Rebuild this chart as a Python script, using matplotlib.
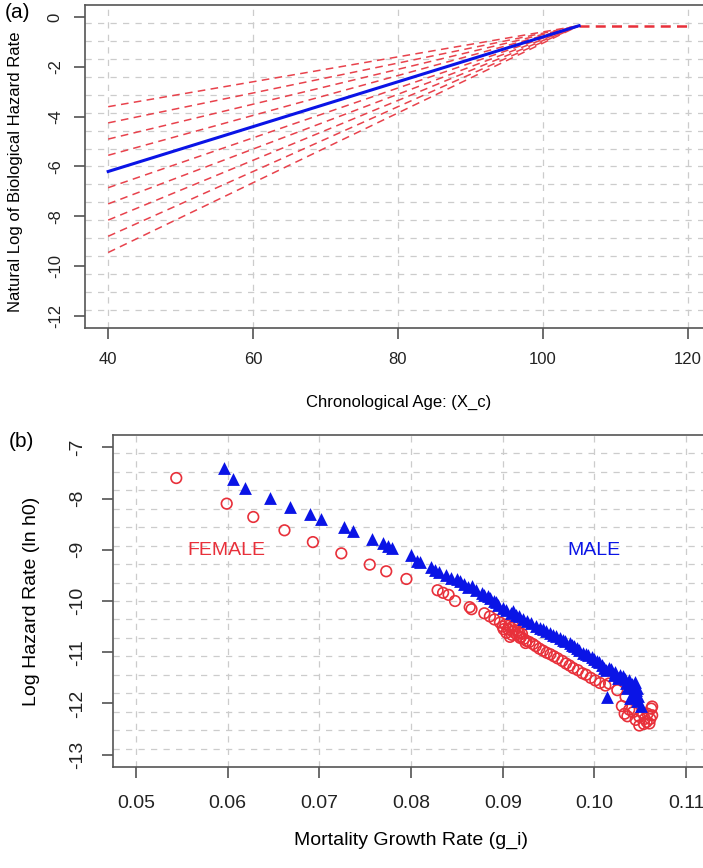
import numpy as np
import matplotlib.pyplot as plt

plt.rcParams['font.family'] = ['Liberation Sans', 'DejaVu Sans']
plt.rcParams['axes.unicode_minus'] = False

# panel (a): biological hazard lines
age_start = 40
age_end = 105
age_max = 120
lnh_end = -0.35
blue_start = -6.2
red_starts = [-3.6, -4.25, -4.9, -5.55, -6.85, -7.5, -8.15, -8.8, -9.45]
a_xticks = [40, 60, 80, 100, 120]
a_yticks = [0, -2, -4, -6, -8, -10, -12]

# panel (b): growth rate vs log hazard
fem_g = [0.0544, 0.0599, 0.0628, 0.0662, 0.0693, 0.0724, 0.0755, 0.0773, 0.0795,
         0.0829, 0.0835, 0.0841, 0.0848, 0.0864, 0.0866, 0.0880, 0.0886, 0.0891,
         0.0897, 0.0900, 0.0903, 0.0906, 0.0909, 0.0911, 0.0913, 0.0915, 0.0918,
         0.0920, 0.0923, 0.0926, 0.0929, 0.0933, 0.0936, 0.0940, 0.0944, 0.0948,
         0.0952, 0.0956, 0.0960, 0.0965, 0.0969, 0.0973, 0.0977, 0.0982, 0.0987,
         0.0991, 0.0996, 0.1001, 0.1006, 0.1012, 0.1016, 0.1025, 0.1034, 0.1033,
         0.1042, 0.1049, 0.1049, 0.1052, 0.1055, 0.1057, 0.1060, 0.1062, 0.1063,
         0.1063, 0.1045, 0.1038,
         0.0901, 0.0904, 0.0907, 0.0910, 0.0912, 0.0916, 0.0919, 0.0908, 0.0921,
         0.0925, 0.1030, 0.1036, 0.1058, 0.1061, 0.1054]
fem_h = [-7.60, -8.10, -8.36, -8.62, -8.85, -9.07, -9.29, -9.42, -9.57,
         -9.79, -9.84, -9.88, -10.00, -10.12, -10.16, -10.24, -10.30, -10.36,
         -10.42, -10.50, -10.46, -10.55, -10.52, -10.60, -10.57, -10.65, -10.62,
         -10.70, -10.74, -10.78, -10.80, -10.84, -10.88, -10.93, -10.97, -11.01,
         -11.04, -11.08, -11.12, -11.17, -11.22, -11.26, -11.31, -11.35, -11.41,
         -11.44, -11.50, -11.55, -11.60, -11.65, -11.61, -11.74, -11.87, -12.20,
         -12.17, -12.26, -12.43, -12.18, -12.30, -12.36, -12.39, -12.10, -12.23,
         -12.06, -12.32, -12.12,
         -10.55, -10.62, -10.48, -10.66, -10.50, -10.58, -10.72, -10.70, -10.64,
         -10.82, -12.05, -12.25, -12.20, -12.30, -12.40]
male_g = [0.0596, 0.0606, 0.0619, 0.0646, 0.0668, 0.0690, 0.0702, 0.0727, 0.0737,
          0.0758, 0.0769, 0.0775, 0.0779, 0.0800, 0.0807, 0.0810, 0.0822, 0.0826,
          0.0831, 0.0838, 0.0844, 0.0853, 0.0858, 0.0862, 0.0871, 0.0877, 0.0880,
          0.0886, 0.0890, 0.0895, 0.0900, 0.0909, 0.0914, 0.0918, 0.0931, 0.0936,
          0.0941, 0.0947, 0.0958, 0.0963, 0.0968, 0.0973, 0.0978, 0.0983, 0.0988,
          0.0993, 0.1000, 0.1005, 0.1010, 0.1014, 0.1013, 0.1018, 0.1023, 0.1028,
          0.1033, 0.1038, 0.1041, 0.1045, 0.1043, 0.1048, 0.1051, 0.1036,
          0.0850, 0.0866, 0.0884, 0.0893, 0.0904, 0.0911, 0.0922, 0.0927, 0.0944,
          0.0952, 0.0955, 0.0966, 0.0976, 0.0981, 0.0991, 0.0997, 0.1003, 0.1008,
          0.1016, 0.1021, 0.1026, 0.1031, 0.1035, 0.1040, 0.1044, 0.1047, 0.1039,
          0.1046]
male_h = [-7.40, -7.62, -7.79, -7.99, -8.16, -8.30, -8.40, -8.56, -8.64,
          -8.79, -8.87, -8.92, -8.97, -9.11, -9.21, -9.24, -9.34, -9.40,
          -9.44, -9.50, -9.56, -9.61, -9.66, -9.72, -9.79, -9.84, -9.88,
          -9.95, -10.00, -10.07, -10.13, -10.24, -10.28, -10.30, -10.43, -10.48,
          -10.52, -10.58, -10.69, -10.73, -10.78, -10.82, -10.88, -10.96, -11.01,
          -11.06, -11.14, -11.20, -11.30, -11.87, -11.35, -11.33, -11.39, -11.45,
          -11.52, -11.55, -11.62, -11.74, -11.82, -11.85, -12.04, -11.70,
          -9.58, -9.70, -9.90, -10.02, -10.18, -10.20, -10.36, -10.40, -10.55,
          -10.62, -10.66, -10.76, -10.85, -10.92, -11.04, -11.10, -11.18, -11.24,
          -11.30, -11.45, -11.50, -11.46, -11.60, -11.68, -11.58, -11.70, -11.90,
          -11.95]
b_xticks = [0.05, 0.06, 0.07, 0.08, 0.09, 0.10, 0.11]
b_xlabels = ['0.05', '0.06', '0.07', '0.08', '0.09', '0.10', '0.11']
b_yticks = [-7, -8, -9, -10, -11, -12, -13]

W, H = 703, 868
fig = plt.figure(figsize=(W / 100, H / 100), dpi=100)


def px(x, y):
    return x / W, 1 - y / H


def r_grid(ax, xt, ny=18):
    for x in xt:
        ax.axvline(x, color='#cccccc', lw=0.9, ls=(0, (5, 5)), zorder=0)
    for i in range(1, ny):
        ax.plot([0, 1], [i / ny, i / ny], transform=ax.transAxes,
                color='#cccccc', lw=0.9, ls=(0, (5, 5)), zorder=0)


def style(ax, size, xpad, ypad):
    for s in ax.spines.values():
        s.set_color('#555555')
        s.set_linewidth(1.2)
    ax.tick_params(length=8, width=1.1, color='#444444', labelsize=size,
                   labelcolor='#222222')
    ax.tick_params(axis='x', pad=xpad)
    ax.tick_params(axis='y', pad=ypad)
    for lbl in ax.get_yticklabels():
        lbl.set_rotation(90)
        lbl.set_va('center')


# ---- (a)
ax1 = fig.add_axes([85 / W, 1 - 328 / H, 626 / W, 323 / H])
r_grid(ax1, a_xticks)
for y0 in red_starts:
    ax1.plot([age_start, age_end], [y0, lnh_end], color='#e8424c', lw=1.1,
             ls=(0, (5, 3.5)), zorder=2)
ax1.plot([age_start, age_end], [blue_start, lnh_end], color='#0a14e6', lw=2.2, zorder=3)
ax1.plot([age_end, age_max], [lnh_end, lnh_end], color='#e8303a', lw=1.8,
         ls=(0, (4, 2.5)), zorder=2)
ax1.set_xlim(36.8, 123.2)
ax1.set_ylim(-12.48, 0.48)
ax1.set_xticks(a_xticks)
ax1.set_yticks(a_yticks)
ax1.set_yticklabels([str(v) for v in a_yticks])
style(ax1, 12, 9, 8)

fig.text(*px(399, 402), 'Chronological Age: (X_c)', fontsize=12, ha='center', va='center')
fig.text(*px(16, 172), 'Natural Log of Biological Hazard Rate', fontsize=12,
         rotation=90, ha='center', va='center')
fig.text(*px(18, 13), '(a)', fontsize=15, ha='center', va='center')

# ---- (b)
ax2 = fig.add_axes([113 / W, 1 - 767 / H, 596 / W, 332 / H])
r_grid(ax2, b_xticks)
ax2.scatter(fem_g, fem_h, s=58, facecolors='none', edgecolors='#e8303a',
            linewidths=1.2, zorder=3)
ax2.scatter(male_g, male_h, s=85, marker='^', color='#0a14e6', linewidths=0, zorder=4)
ax2.text(0.0599, -9.01, 'FEMALE', color='#e8303a', fontsize=14, ha='center', va='center')
ax2.text(0.1000, -9.01, 'MALE', color='#0a14e6', fontsize=14, ha='center', va='center')
ax2.set_xlim(0.0475, 0.1125)
ax2.set_ylim(-13.24, -6.76)
ax2.set_xticks(b_xticks)
ax2.set_xticklabels(b_xlabels)
ax2.set_yticks(b_yticks)
ax2.set_yticklabels([str(v) for v in b_yticks])
style(ax2, 14, 12, 11)

fig.text(*px(411, 840), 'Mortality Growth Rate (g_i)', fontsize=14, ha='center', va='center')
fig.text(*px(31, 601), 'Log Hazard Rate (ln h0)', fontsize=14,
         rotation=90, ha='center', va='center')
fig.text(*px(21, 442), '(b)', fontsize=15, ha='center', va='center')

fig.savefig('out.png', dpi=100)
